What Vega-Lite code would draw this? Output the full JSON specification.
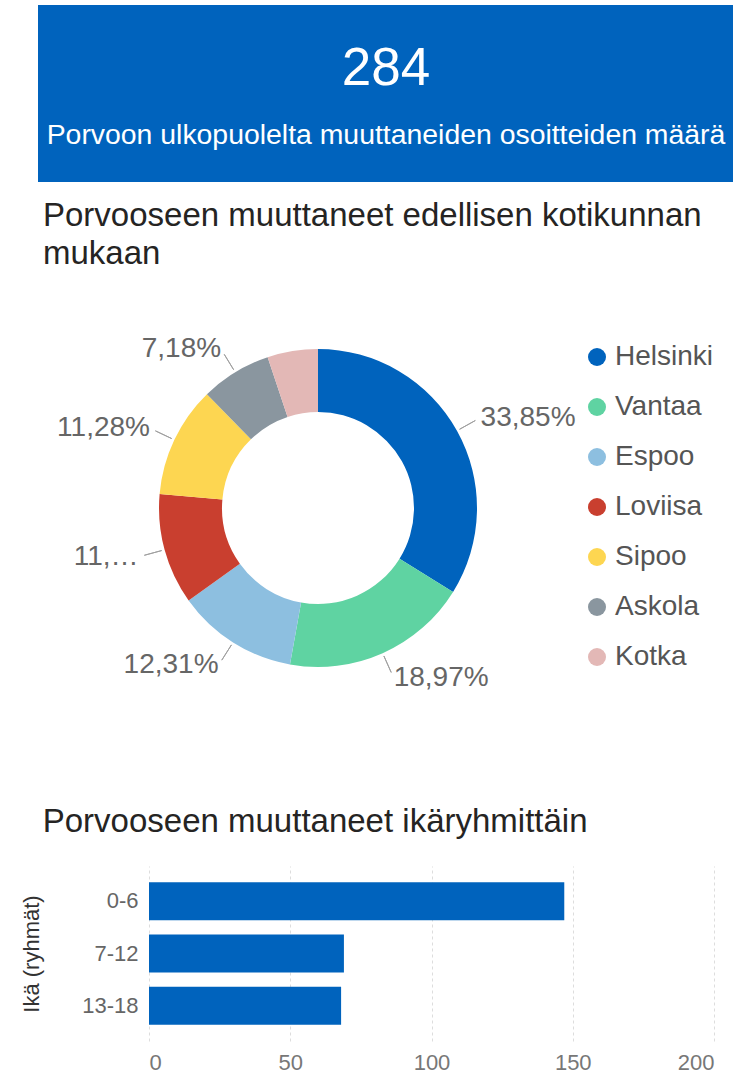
{
  "$schema": "https://vega.github.io/schema/vega-lite/v6.json",
  "background": "white",
  "padding": {"left": 20, "top": 5, "right": 0, "bottom": 0},
  "config": {
    "font": "Liberation Sans",
    "view": {"stroke": null},
    "title": {"fontWeight": "normal", "color": "#252423", "fontSize": 33, "anchor": "start", "baseline": "bottom"}
  },
  "resolve": {"legend": {"color": "independent"}},
  "spacing": 18,
  "vconcat": [
    {
      "width": 696,
      "height": 177,
      "view": {"fill": "#0063BD", "stroke": null},
      "data": {"values": [
        {"kind": "value", "text": "284"},
        {"kind": "label", "text": "Porvoon ulkopuolelta muuttaneiden osoitteiden määrä"}
      ]},
      "encoding": {
        "y": {"field": "kind", "type": "nominal",
          "scale": {"type": "point", "domain": ["value", "label"], "padding": 1.344, "align": 0.675},
          "axis": {"title": null, "labels": false, "ticks": false, "domain": false, "grid": false, "minExtent": 17, "maxExtent": 17}}
      },
      "layer": [
        {"transform": [{"filter": "datum.kind === 'value'"}],
         "mark": {"type": "text", "fontSize": 53, "color": "white", "baseline": "alphabetic"},
         "encoding": {"text": {"field": "text"}}},
        {"transform": [{"filter": "datum.kind === 'label'"}],
         "mark": {"type": "text", "fontSize": 28.4, "color": "white", "baseline": "alphabetic"},
         "encoding": {"text": {"field": "text"}}}
      ]
    },
    {
      "spacing": 114,
      "resolve": {"legend": {"color": "independent"}},
      "vconcat": [
        {
          "width": 560,
          "height": 330,
          "title": {"text": ["Porvooseen muuttaneet edellisen kotikunnan", "mukaan"], "lineHeight": 38, "offset": 39, "dx": 5},
          "data": {"values": [
            {"city": "Helsinki", "count": 66, "label": "33,85%"},
            {"city": "Vantaa", "count": 37, "label": "18,97%"},
            {"city": "Espoo", "count": 24, "label": "12,31%"},
            {"city": "Loviisa", "count": 22, "label": "11,…"},
            {"city": "Sipoo", "count": 22, "label": "11,28%"},
            {"city": "Askola", "count": 14, "label": "7,18%"},
            {"city": "Kotka", "count": 10, "label": ""}
          ]},
          "encoding": {
            "theta": {"field": "count", "type": "quantitative", "stack": true},
            "order": {"field": "count", "sort": "descending"}
          },
          "layer": [
            {
              "mark": {"type": "arc", "innerRadius": 96, "outerRadius": 159},
              "encoding": {
                "color": {"field": "city", "type": "nominal",
                  "scale": {"domain": ["Helsinki", "Vantaa", "Espoo", "Loviisa", "Sipoo", "Askola", "Kotka"],
                            "range": ["#0063BD", "#5FD3A2", "#8DBFE0", "#C93F2F", "#FDD651", "#8A969F", "#E3B8B6"]},
                  "legend": {"title": null, "orient": "right", "offset": -15, "symbolType": "circle", "symbolSize": 324,
                             "labelFontSize": 28, "labelColor": "#555555", "rowPadding": 22, "labelOffset": 4, "padding": 0,
                             "symbolStrokeWidth": 0}}
              }
            },
            {
              "mark": {"type": "arc", "innerRadius": 162, "outerRadius": 180, "padAngle": 3.0, "filled": false, "stroke": "#A0A0A0", "strokeWidth": 1},
              "encoding": {
                "strokeOpacity": {"condition": {"test": "datum.label === ''", "value": 0}, "value": 1}
              }
            },
            {
              "mark": {"type": "text", "radius": 186, "align": "left", "baseline": "middle", "fontSize": 28, "color": "#666666"},
              "encoding": {
                "text": {"condition": {"test": "indexof(['Helsinki','Vantaa'], datum.city) >= 0", "field": "label"}, "value": ""}
              }
            },
            {
              "mark": {"type": "text", "radius": 186, "align": "right", "baseline": "middle", "fontSize": 28, "color": "#666666"},
              "encoding": {
                "text": {"condition": {"test": "indexof(['Helsinki','Vantaa'], datum.city) < 0", "field": "label"}, "value": ""}
              }
            }
          ]
        },
        {
          "spacing": 91,
          "bounds": "flush",
          "hconcat": [
            {
              "width": 0,
              "height": 175,
              "data": {"values": []},
              "mark": {"type": "point"}
            },
            {
              "width": 565,
              "height": 175,
              "title": {"text": "Porvooseen muuttaneet ikäryhmittäin", "offset": 27, "dx": 22},
              "data": {"values": [
                {"group": "0-6", "count": 147},
                {"group": "7-12", "count": 69},
                {"group": "13-18", "count": 68}
              ]},
              "mark": {"type": "bar", "color": "#0063BD"},
              "encoding": {
                "y": {"field": "group", "type": "nominal", "sort": null,
                  "scale": {"paddingInner": 0.27, "paddingOuter": 0.31},
                  "axis": {"title": "Ikä (ryhmät)", "titleFontSize": 22, "titleFontWeight": "normal", "titleColor": "#333333", "titlePadding": 38,
                           "labelFontSize": 22, "labelColor": "#666666", "labelPadding": 11, "ticks": false, "domain": false}},
                "x": {"field": "count", "type": "quantitative", "scale": {"domain": [0, 200]},
                  "axis": {"title": null, "values": [0, 50, 100, 150, 200], "grid": true, "gridDash": [3, 3], "gridColor": "#dddddd",
                           "ticks": false, "domain": false, "labelFontSize": 22, "labelColor": "#777777", "labelPadding": 11}}
              }
            }
          ]
        }
      ]
    }
  ]
}
